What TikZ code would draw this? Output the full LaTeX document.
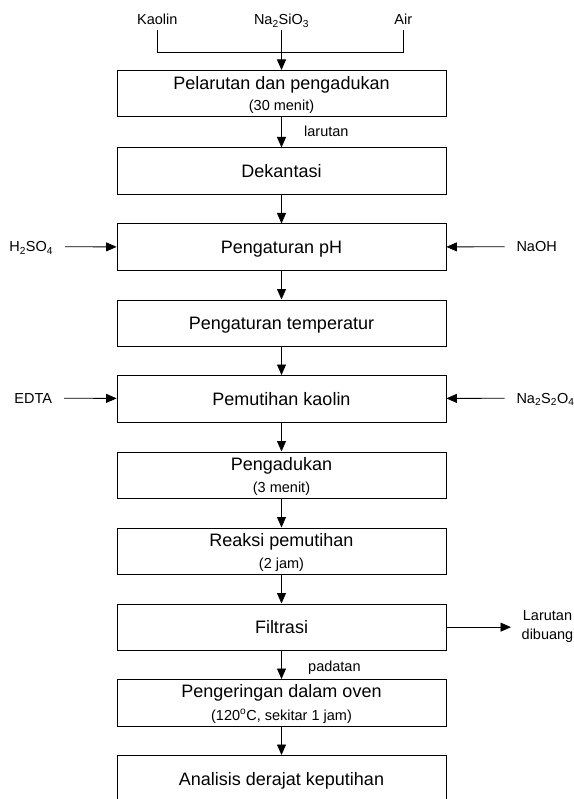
\documentclass[tikz,border=0pt]{standalone}
\usepackage{fontspec}
\setmainfont{Liberation Sans}
\usetikzlibrary{arrows.meta}
\tikzset{
  box/.style={draw, line width=0.8pt, minimum width=329pt, minimum height=46.5pt,
    inner sep=0pt, anchor=north, font=\fontsize{18}{20}\selectfont,
    text height=12.9pt, text depth=0pt},
  arr/.style={-{Triangle[length=10.5pt,width=9pt]}, line width=0.8pt},
  ln/.style={line width=0.8pt},
  big/.style={font=\fontsize{18}{20}\selectfont, inner sep=0pt, anchor=base},
  small/.style={font=\fontsize{14.5}{17}\selectfont, inner sep=0pt, anchor=base},
  side/.style={font=\fontsize{14.5}{17}\selectfont, inner sep=0pt, outer xsep=12pt,
    text height=10.4pt, text depth=0pt},
}
\begin{document}
\begin{tikzpicture}[x=1pt,y=-1pt]
\useasboundingbox (0,0) rectangle (573,799);

% inputs at top
\node[small, text depth=0pt] (kaolin) at (157.3,25) {Kaolin};
\node[small, text depth=0pt] (na) at (281.5,25) {Na\textsubscript{2}SiO\textsubscript{3}};
\node[small, text depth=0pt] (air) at (403.3,25) {Air};
\coordinate (j) at (281.5,52);

% boxes
\node[box] (b1) at (281.5,70) {};
\node[big] (b1a) at (281.5,89.5) {Pelarutan dan pengadukan};
\node[small] (b1b) at (281.5,111) {(30 menit)};

\node[box] (b2) at (281.5,147.5) {Dekantasi};
\node[box] (b3) at (281.5,223.5) {Pengaturan pH};
\node[box] (b4) at (281.5,299.5) {Pengaturan temperatur};
\node[box] (b5) at (281.5,375) {Pemutihan kaolin};

\node[box] (b6) at (281.5,451.5) {};
\node[big] (b6a) at (281.5,470) {Pengadukan};
\node[small] (b6b) at (281.5,492.5) {(3 menit)};

\node[box] (b7) at (281.5,527.5) {};
\node[big] (b7a) at (281.5,546) {Reaksi pemutihan};
\node[small] (b7b) at (281.5,568.5) {(2 jam)};

\node[box] (b8) at (281.5,603.5) {Filtrasi};

\node[box] (b9) at (281.5,679) {};
\node[big] (b9a) at (281.5,697.5) {Pengeringan dalam oven};
\node[small] (b9b) at (281.5,720) {(120\textsuperscript{o}C, sekitar 1 jam)};

\node[box] (b10) at (281.5,755) {Analisis derajat keputihan};

% side inputs
\node[side, anchor=east] (h2so4) at (65,246.75) {H\textsubscript{2}SO\textsubscript{4}};
\node[side, anchor=west] (naoh) at (504.5,246.75) {NaOH};
\node[side, anchor=east] (edta) at (64,398.25) {EDTA};
\node[side, anchor=west] (na2s2o4) at (504.5,398.25) {Na\textsubscript{2}S\textsubscript{2}O\textsubscript{4}};

% output of filtration
\node[font=\fontsize{14.5}{18.5}\selectfont, align=center, inner sep=0pt, anchor=west]
  (buang) at (521.5,626.5) {Larutan\\dibuang};

% stream labels
\node[small, anchor=base west] (larutan) at (304,136.5) {larutan};
\node[small, anchor=base west] (padatan) at (308,671.5) {padatan};

% connectors
\draw[ln] ([yshift=-5pt]kaolin.south) |- (j);
\draw[ln] ([yshift=-5pt]air.south) |- (j);
\draw[arr] ([yshift=-5pt]na.south) -- (b1.north);
\draw[arr] (b1) -- (b2);
\draw[arr] (b2) -- (b3);
\draw[arr] (b3) -- (b4);
\draw[arr] (b4) -- (b5);
\draw[arr] (b5) -- (b6);
\draw[arr] (b6) -- (b7);
\draw[arr] (b7) -- (b8);
\draw[arr] (b8) -- (b9);
\draw[arr] (b9) -- (b10);
\draw[arr] (h2so4) -- (b3);
\draw[arr] (naoh) -- (b3);
\draw[arr] (edta) -- (b5);
\draw[arr] (na2s2o4) -- (b5);
\draw[arr] (b8.east) -- ([xshift=-10.5pt]b8.east -| buang.west);
\end{tikzpicture}
\end{document}
